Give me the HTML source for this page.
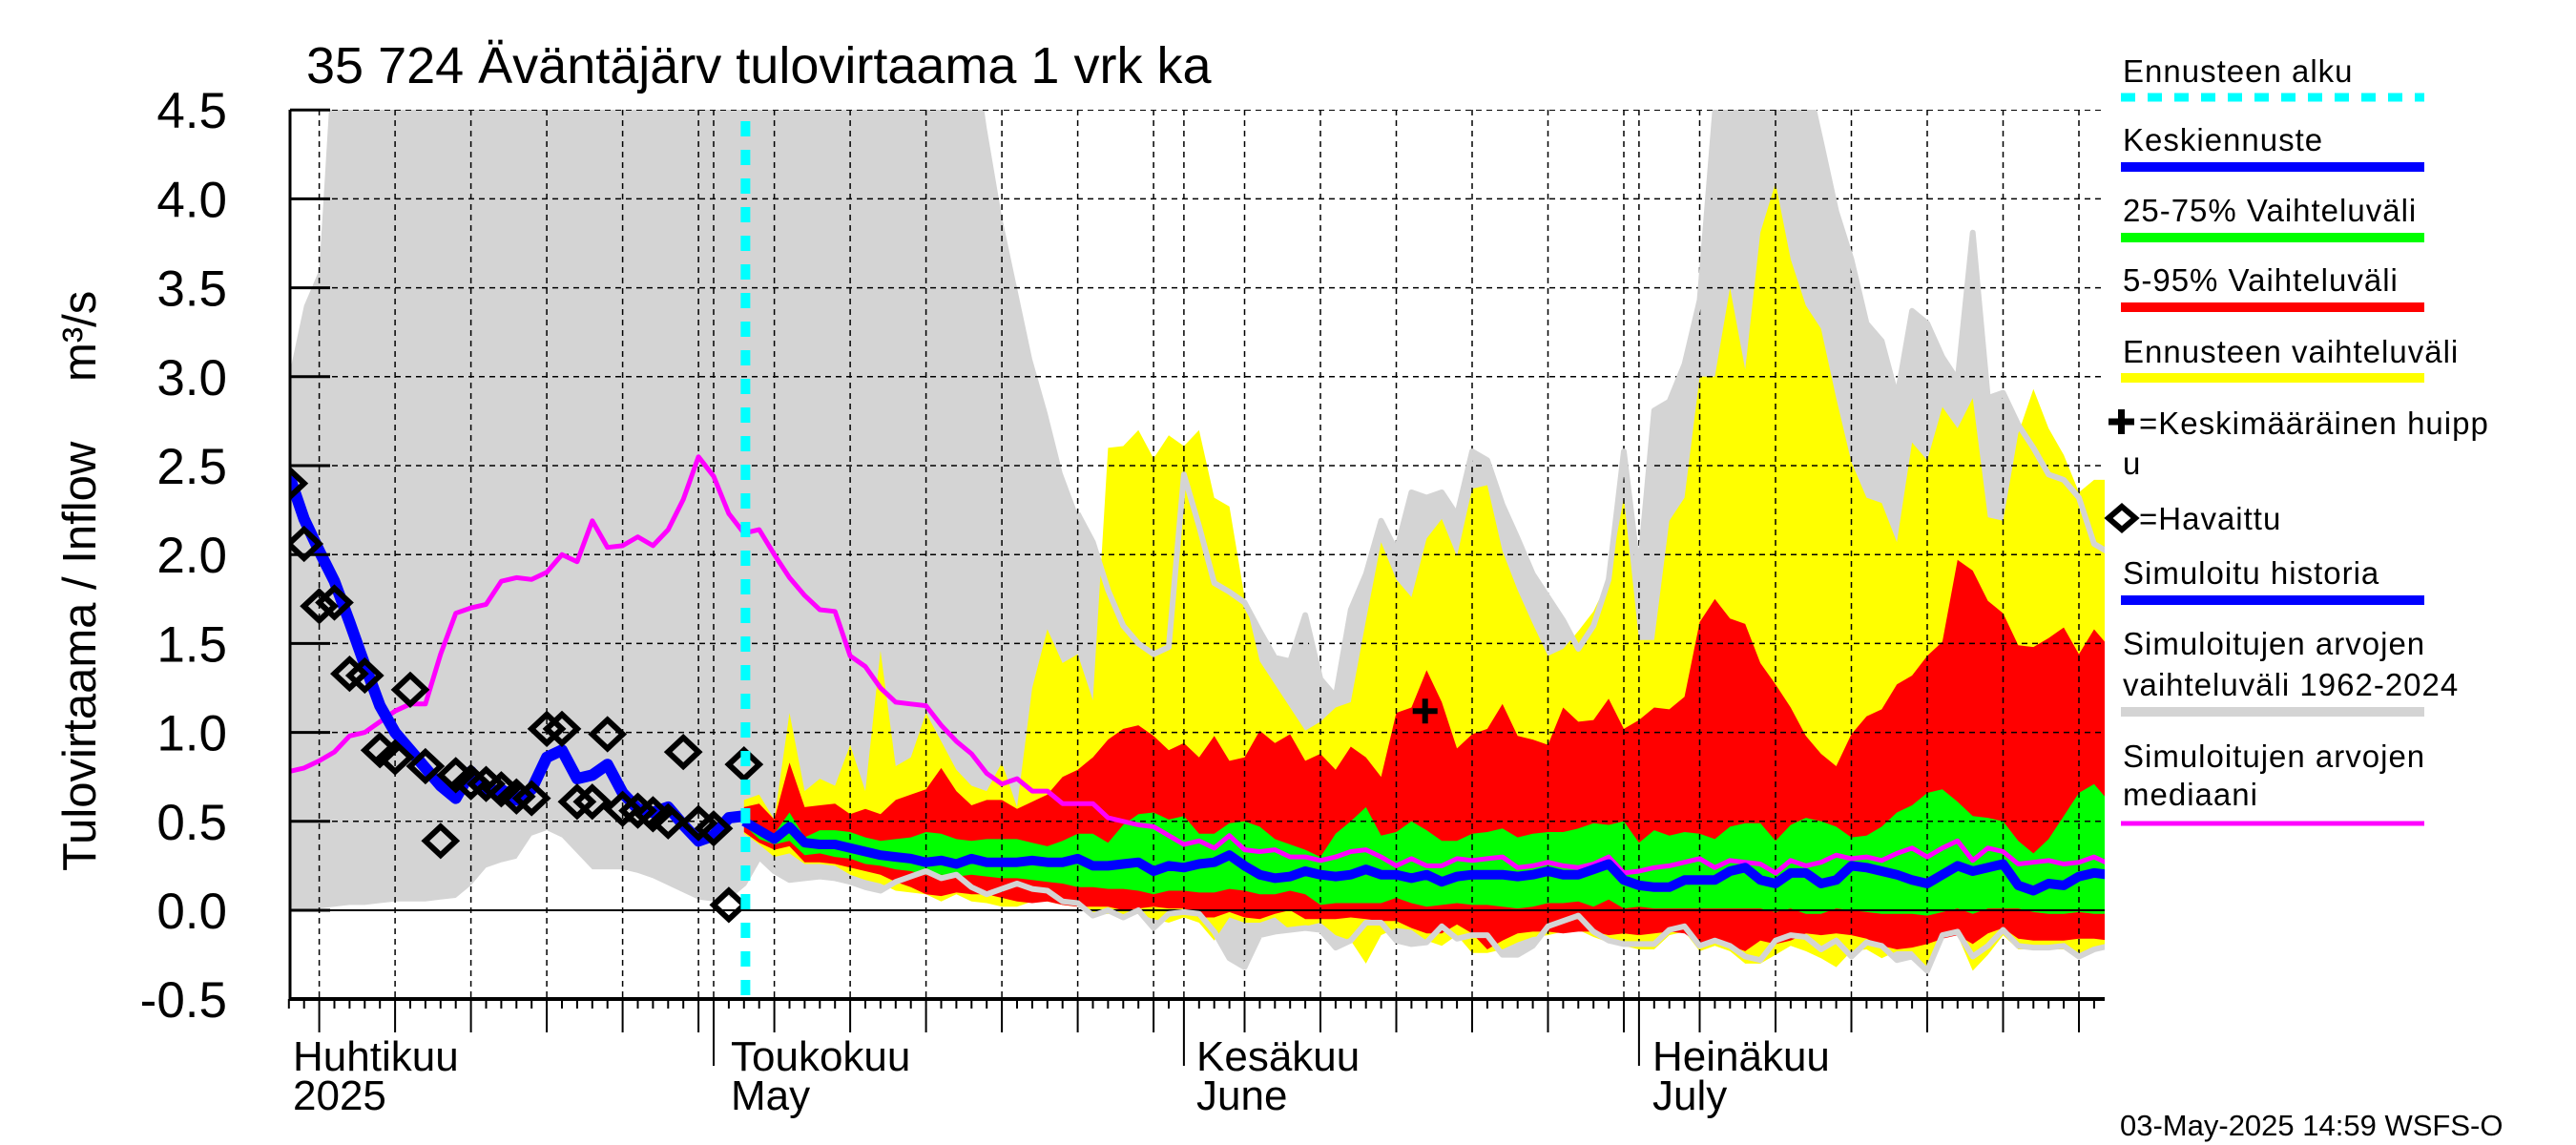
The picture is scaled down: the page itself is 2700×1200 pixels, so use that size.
<!DOCTYPE html>
<html><head><meta charset="utf-8"><title>Äväntäjärv tulovirtaama</title>
<style>
html,body{margin:0;padding:0;background:#fff;}
svg{display:block;font-family:"Liberation Sans",sans-serif;}
.lg{font-size:33px;letter-spacing:1px;fill:#000;}
</style></head>
<body>
<svg id="chart" width="2700" height="1200" viewBox="0 0 2700 1200" xmlns="http://www.w3.org/2000/svg">
<defs><clipPath id="pc"><rect x="304" y="115" width="1902" height="932"/></clipPath></defs>
<rect x="0" y="0" width="2700" height="1200" fill="#fff"/>
<text x="321" y="87" font-size="54">35 724 Äväntäjärv tulovirtaama 1 vrk ka</text>
<g id="plot" clip-path="url(#pc)"></g>
<g id="axes"></g>
<text transform="translate(100,913) rotate(-90)" font-size="49">Tulovirtaama / Inflow</text>
<text transform="translate(100,400) rotate(-90)" font-size="49">m³/s</text>
<g font-size="44">
<text x="307" y="1122">Huhtikuu</text>
<text x="307" y="1163">2025</text>
<text x="766" y="1122">Toukokuu</text>
<text x="766" y="1163">May</text>
<text x="1254" y="1122">Kesäkuu</text>
<text x="1254" y="1163">June</text>
<text x="1732" y="1122">Heinäkuu</text>
<text x="1732" y="1163">July</text>
</g>
<text x="2222" y="1190" font-size="31">03-May-2025 14:59 WSFS-O</text>
<g>
<text class="lg" x="2225" y="86">Ennusteen alku</text>
<line x1="2223" y1="102" x2="2541" y2="102" stroke="#00ffff" stroke-width="9" stroke-dasharray="15 13"/>
<text class="lg" x="2225" y="158">Keskiennuste</text>
<line x1="2223" y1="175" x2="2541" y2="175" stroke="#0000ff" stroke-width="10"/>
<text class="lg" x="2225" y="232">25-75% Vaihteluväli</text>
<line x1="2223" y1="249" x2="2541" y2="249" stroke="#00ff00" stroke-width="10"/>
<text class="lg" x="2225" y="305">5-95% Vaihteluväli</text>
<line x1="2223" y1="322" x2="2541" y2="322" stroke="#ff0000" stroke-width="10"/>
<text class="lg" x="2225" y="380">Ennusteen vaihteluväli</text>
<line x1="2223" y1="396" x2="2541" y2="396" stroke="#ffff00" stroke-width="10"/>
<path d="M2210 442 H2237 M2223.5 429 V455" stroke="#000" stroke-width="7"/>
<text class="lg" x="2242" y="455">=Keskimääräinen huipp</text>
<text class="lg" x="2225" y="497">u</text>
<path d="M2224 531 L2238 543 L2224 555 L2210 543 Z" fill="none" stroke="#000" stroke-width="6"/>
<text class="lg" x="2242" y="555">=Havaittu</text>
<text class="lg" x="2225" y="612">Simuloitu historia</text>
<line x1="2223" y1="629" x2="2541" y2="629" stroke="#0000ff" stroke-width="10"/>
<text class="lg" x="2225" y="686">Simuloitujen arvojen</text>
<text class="lg" x="2225" y="729">vaihteluväli 1962-2024</text>
<line x1="2223" y1="746" x2="2541" y2="746" stroke="#d4d4d4" stroke-width="10"/>
<text class="lg" x="2225" y="804">Simuloitujen arvojen</text>
<text class="lg" x="2225" y="844">mediaani</text>
<line x1="2223" y1="863" x2="2541" y2="863" stroke="#ff00ff" stroke-width="5"/>
</g>
</svg>
<script>
// day index: 0 = 1 April 2025
const histStartDay = 2;
const histHigh = [3.0,3.4,3.6,5,5,5,5,5,5,5,5,5,5,5,5,5,5,5,5,5,5,5,5,5,5,5,5,5,5,5,5,5,5,5,5,5,5,5,5,5,5,5,5,5,5,5,4.4,3.9,3.5,3.1,2.8,2.46,2.23,2.07,1.8,1.6,1.5,1.44,1.48,2.45,2.16,1.84,1.79,1.73,1.57,1.42,1.40,1.66,1.30,1.20,1.69,1.89,2.19,2.02,2.35,2.32,2.35,2.22,2.58,2.53,2.28,2.09,1.89,1.76,1.63,1.47,1.60,1.86,2.58,1.88,2.81,2.86,3.07,3.43,4.48,5,5,5,5,5,4.7,4.32,3.93,3.66,3.30,3.20,2.88,3.37,3.30,3.11,2.98,3.81,2.88,2.91,2.73,2.60,2.45,2.42,2.32,2.06,2.01];
const histLow = [0,0,0.01,0.02,0.03,0.03,0.04,0.05,0.05,0.05,0.06,0.07,0.14,0.24,0.27,0.29,0.42,0.45,0.41,0.32,0.23,0.23,0.23,0.21,0.18,0.14,0.10,0.06,0.05,0.08,0.15,0.30,0.22,0.17,0.18,0.19,0.18,0.16,0.13,0.11,0.16,0.19,0.22,0.18,0.20,0.13,0.09,0.12,0.15,0.12,0.11,0.05,0.04,-0.03,0,-0.04,0,-0.10,-0.02,-0.01,-0.02,-0.12,-0.27,-0.32,-0.14,-0.12,-0.11,-0.10,-0.11,-0.21,-0.17,-0.07,-0.07,-0.17,-0.19,-0.18,-0.09,-0.16,-0.14,-0.14,-0.25,-0.25,-0.20,-0.09,-0.06,-0.03,-0.12,-0.17,-0.19,-0.19,-0.19,-0.11,-0.09,-0.20,-0.17,-0.20,-0.26,-0.28,-0.17,-0.14,-0.15,-0.22,-0.17,-0.26,-0.18,-0.20,-0.28,-0.26,-0.34,-0.14,-0.12,-0.26,-0.20,-0.11,-0.20,-0.21,-0.21,-0.20,-0.26,-0.22,-0.20];
const median = [0.78,0.80,0.84,0.89,0.98,1.0,1.06,1.12,1.16,1.16,1.44,1.67,1.70,1.72,1.85,1.87,1.86,1.90,2.00,1.96,2.19,2.04,2.05,2.10,2.05,2.14,2.31,2.55,2.44,2.23,2.12,2.14,2.0,1.87,1.77,1.69,1.68,1.43,1.37,1.25,1.17,1.16,1.15,1.04,0.95,0.88,0.77,0.71,0.74,0.67,0.67,0.60,0.60,0.60,0.52,0.50,0.48,0.47,0.42,0.37,0.39,0.35,0.42,0.34,0.33,0.34,0.30,0.30,0.28,0.30,0.33,0.34,0.30,0.25,0.29,0.25,0.25,0.29,0.28,0.29,0.30,0.24,0.25,0.27,0.25,0.24,0.26,0.30,0.21,0.22,0.24,0.25,0.27,0.29,0.24,0.28,0.27,0.26,0.21,0.28,0.25,0.27,0.31,0.29,0.30,0.28,0.32,0.35,0.30,0.35,0.39,0.28,0.35,0.33,0.26,0.27,0.28,0.26,0.27,0.30,0.26];
const simHistory = [2.45,2.2,2.02,1.85,1.62,1.38,1.15,1.0,0.9,0.8,0.7,0.63,0.78,0.66,0.68,0.62,0.68,0.86,0.9,0.74,0.76,0.82,0.66,0.57,0.55,0.58,0.48,0.39,0.42,0.52,0.53];
const observed = [2.40,2.06,1.71,1.73,1.33,1.32,0.90,0.86,1.24,0.81,0.39,0.76,0.72,0.71,0.68,0.64,0.63,1.02,1.02,0.61,0.61,0.99,0.57,0.56,0.54,0.50,0.89,0.49,0.46,0.03,0.82];
const fcStartDay = 32;
const fcMean = [0.50,0.45,0.40,0.47,0.38,0.37,0.37,0.35,0.33,0.31,0.30,0.29,0.27,0.28,0.26,0.29,0.27,0.27,0.27,0.28,0.27,0.27,0.29,0.25,0.25,0.26,0.27,0.22,0.25,0.24,0.26,0.27,0.31,0.25,0.20,0.18,0.19,0.22,0.20,0.19,0.20,0.23,0.20,0.20,0.18,0.20,0.16,0.19,0.20,0.20,0.20,0.19,0.20,0.22,0.20,0.20,0.23,0.26,0.17,0.14,0.13,0.13,0.17,0.17,0.17,0.22,0.24,0.17,0.15,0.21,0.21,0.15,0.17,0.25,0.24,0.22,0.20,0.17,0.15,0.20,0.25,0.22,0.24,0.26,0.14,0.11,0.15,0.14,0.19,0.21,0.20];
const fcP75 = [0.51,0.44,0.43,0.55,0.41,0.45,0.45,0.44,0.41,0.39,0.40,0.41,0.44,0.43,0.40,0.39,0.40,0.40,0.40,0.38,0.36,0.39,0.43,0.43,0.38,0.48,0.54,0.55,0.51,0.53,0.43,0.43,0.49,0.50,0.47,0.40,0.37,0.34,0.30,0.43,0.50,0.58,0.42,0.44,0.50,0.45,0.39,0.39,0.43,0.44,0.46,0.41,0.43,0.44,0.44,0.46,0.49,0.48,0.50,0.38,0.45,0.42,0.44,0.43,0.40,0.47,0.49,0.49,0.39,0.48,0.52,0.50,0.47,0.41,0.42,0.47,0.55,0.59,0.66,0.68,0.61,0.53,0.52,0.50,0.39,0.32,0.40,0.53,0.66,0.71,0.61];
const fcP25 = [0.48,0.40,0.37,0.39,0.31,0.32,0.30,0.29,0.26,0.25,0.23,0.22,0.20,0.20,0.19,0.20,0.19,0.18,0.18,0.17,0.16,0.15,0.13,0.13,0.12,0.12,0.11,0.09,0.11,0.11,0.10,0.10,0.12,0.11,0.09,0.09,0.11,0.09,0.03,0.04,0.04,0.04,0.04,0.07,0.04,0.02,0.03,0.04,0.03,0.03,0.02,0.01,0.02,0.04,0.04,0.05,0.02,0.06,0.01,0.02,0.01,0.01,0.01,0.01,0.01,0.01,0.01,0.01,-0.01,0.01,-0.02,-0.02,0.01,0,-0.01,-0.02,-0.02,-0.02,-0.03,-0.01,0.01,-0.02,0.01,0.01,0.01,-0.01,-0.02,-0.02,-0.01,-0.02,-0.02];
const fcP95 = [0.58,0.60,0.51,0.83,0.58,0.59,0.60,0.54,0.57,0.54,0.62,0.65,0.68,0.80,0.67,0.59,0.62,0.62,0.57,0.61,0.65,0.75,0.79,0.86,0.96,1.02,1.04,0.98,0.90,0.94,0.86,0.98,0.84,0.86,1.01,0.94,0.99,0.84,0.88,0.79,0.92,0.86,0.75,1.11,1.14,1.35,1.17,0.91,0.99,1.02,1.16,0.98,0.96,0.93,1.14,1.06,1.07,1.19,1.02,1.07,1.14,1.13,1.20,1.62,1.75,1.64,1.61,1.39,1.27,1.14,0.98,0.88,0.81,0.99,1.09,1.13,1.27,1.32,1.43,1.51,1.97,1.91,1.74,1.67,1.49,1.48,1.53,1.59,1.44,1.58,1.48];
const fcP05 = [0.44,0.38,0.34,0.36,0.27,0.27,0.26,0.24,0.22,0.20,0.16,0.13,0.09,0.08,0.10,0.09,0.09,0.07,0.05,0.04,0.05,0.03,0.02,0.02,0.02,0,0.01,0.02,0.01,0.01,-0.04,-0.04,-0.01,-0.04,-0.05,-0.02,0,-0.05,-0.05,-0.05,-0.04,-0.05,-0.06,-0.06,-0.10,-0.13,-0.13,-0.08,-0.13,-0.22,-0.17,-0.13,-0.12,-0.12,-0.13,-0.12,-0.12,-0.14,-0.13,-0.14,-0.13,-0.12,-0.13,-0.19,-0.16,-0.20,-0.23,-0.17,-0.19,-0.17,-0.13,-0.14,-0.13,-0.14,-0.16,-0.20,-0.22,-0.21,-0.19,-0.16,-0.14,-0.19,-0.13,-0.10,-0.16,-0.17,-0.17,-0.17,-0.16,-0.16,-0.17];
const fcMax = [0.62,0.65,0.51,1.11,0.67,0.74,0.70,0.93,0.67,1.46,0.81,0.86,1.11,0.95,0.79,0.70,0.67,0.83,0.58,1.25,1.58,1.39,1.44,1.18,2.60,2.61,2.70,2.54,2.67,2.61,2.70,2.32,2.27,1.76,1.40,1.27,1.14,1.01,1.06,1.14,1.17,1.63,2.07,1.86,1.76,2.09,2.20,1.99,2.37,2.39,2.02,1.80,1.61,1.43,1.47,1.57,1.68,1.86,2.32,1.52,1.52,2.19,2.32,3.0,3.0,3.5,3.04,3.81,4.09,3.66,3.40,3.27,2.88,2.52,2.32,2.29,2.07,2.63,2.53,2.83,2.71,2.88,2.21,2.19,2.68,2.93,2.71,2.56,2.35,2.42,2.42];
const fcMin = [0.43,0.37,0.30,0.32,0.26,0.26,0.25,0.20,0.17,0.15,0.11,0.10,0.09,0.05,0.09,0.05,0.04,0.02,0.02,0.05,0.05,0.03,0.02,-0.03,-0.02,-0.03,-0.02,-0.05,-0.07,-0.04,-0.07,-0.17,-0.04,-0.07,-0.07,-0.04,-0.11,-0.09,-0.07,-0.14,-0.17,-0.30,-0.14,-0.10,-0.11,-0.17,-0.20,-0.14,-0.24,-0.24,-0.22,-0.18,-0.15,-0.14,-0.12,-0.11,-0.15,-0.18,-0.20,-0.22,-0.22,-0.14,-0.12,-0.23,-0.20,-0.23,-0.30,-0.30,-0.25,-0.20,-0.23,-0.27,-0.32,-0.23,-0.22,-0.27,-0.23,-0.23,-0.32,-0.15,-0.14,-0.34,-0.25,-0.14,-0.22,-0.22,-0.22,-0.22,-0.27,-0.23,-0.20];
const peakDay = 76.9;
const peakValue = 1.12;
const forecastStartDay = 32.1;
const yTicks = [-0.5,0.0,0.5,1.0,1.5,2.0,2.5,3.0,3.5,4.0,4.5];
const yTickLabels = ["-0.5","0.0","0.5","1.0","1.5","2.0","2.5","3.0","3.5","4.0","4.5"];
const monthStartDays = [0,30,61,91];
const gridDays = [4,9,14,19,24,29,34,39,44,49,54,59,65,70,75,80,85,90,95,100,105,110,115,120];

const NS = "http://www.w3.org/2000/svg";
const X0 = 304, X1 = 2206, Y0 = 115, Y1 = 1047;
function xs(d){ return 271 + d*15.9; }
function ys(v){ return 954 - v*186.4; }
function mk(tag, attrs, parent){
  const e = document.createElementNS(NS, tag);
  for (const k in attrs) e.setAttribute(k, attrs[k]);
  parent.appendChild(e);
  return e;
}
function pts(start, arr){ return arr.map((v,i)=> xs(start+i).toFixed(1)+","+ys(v).toFixed(1)); }
function band(start, hi, lo, color, name){
  const p = pts(start, hi).concat(pts(start, lo).reverse());
  const e = mk("polygon", {points: p.join(" "), fill: color}, plot);
  
  
}
function line(start, arr, color, w, name){
  const e = mk("polyline", {points: pts(start, arr).join(" "), fill:"none", stroke: color, "stroke-width": w, "stroke-linejoin":"round"}, plot);
  
  
}
const plot = document.getElementById("plot");
const axes = document.getElementById("axes");

band(histStartDay, histHigh, histLow, "#d4d4d4", "historical-range-band");
band(fcStartDay, fcMax, fcMin, "#ffff00", "forecast-range-band");
band(fcStartDay, fcP95, fcP05, "#ff0000", "band-5-95");
band(fcStartDay, fcP75, fcP25, "#00ff00", "band-25-75");

yTicks.forEach(v => {
  const y = ys(v);
  const g = mk("line", {x1:X0, x2:X1, y1:y, y2:y, stroke:"#000", "stroke-width": v===0 ? 2 : 1.5, "stroke-dasharray": v===0 ? "none" : "6 5"}, plot);
  
  
});
gridDays.concat(monthStartDays).forEach(d => {
  const x = xs(d);
  const g = mk("line", {x1:x, x2:x, y1:Y0, y2:Y1, stroke:"#000", "stroke-width":1.5, "stroke-dasharray":"6 5"}, plot);
  
  
});

const lowEdgeStart = 31 - histStartDay;
line(histStartDay + lowEdgeStart, histLow.slice(lowEdgeStart), "#d4d4d4", 6, "historical-range-lower-edge");
const hiEdgeStart = 54 - histStartDay;
line(histStartDay + hiEdgeStart, histHigh.slice(hiEdgeStart), "#d4d4d4", 6, "historical-range-upper-edge");

line(histStartDay, median, "#ff00ff", 5, "simulated-median-line");
line(histStartDay, simHistory, "#0000ff", 12, "simulated-history-line");
line(fcStartDay, fcMean, "#0000ff", 10, "mean-forecast-line");

observed.forEach((v,i) => {
  const x = xs(histStartDay+i), y = ys(v);
  const e = mk("path", {d:`M${x} ${y-15} L${x+16} ${y} L${x} ${y+15} L${x-16} ${y} Z`, fill:"none", stroke:"#000", "stroke-width":6}, plot);
  
  
});

const pk = mk("path", {d:`M${xs(peakDay)-13} ${ys(peakValue)} H${xs(peakDay)+13} M${xs(peakDay)} ${ys(peakValue)-13} V${ys(peakValue)+13}`, stroke:"#000", "stroke-width":6}, plot);



const fl = mk("line", {x1:xs(forecastStartDay), x2:xs(forecastStartDay), y1:127, y2:Y1, stroke:"#00ffff", "stroke-width":10, "stroke-dasharray":"16 14"}, plot);



const la = mk("line", {x1:X0, x2:X0, y1:Y0, y2:Y1+2, stroke:"#000", "stroke-width":3}, axes);


const ba = mk("line", {x1:X0-1, x2:X1, y1:Y1, y2:Y1, stroke:"#000", "stroke-width":4}, axes);


yTicks.forEach((v,i) => {
  const y = ys(v);
  const t = mk("line", {x1:X0, x2:X0+42, y1:y, y2:y, stroke:"#000", "stroke-width":3}, axes);
  
  
  const lb = mk("text", {x:238, y:y+19, "text-anchor":"end", "font-size":53}, axes);
  lb.textContent = yTickLabels[i];
  
  
});
for (let d = 2; d <= 121; d++) {
  const x = xs(d);
  let len = 10;
  if (gridDays.includes(d)) len = 35;
  if (monthStartDays.includes(d)) len = 70;
  const t = mk("line", {x1:x, x2:x, y1:Y1, y2:Y1+len, stroke:"#000", "stroke-width":2}, axes);
  
  
}
</script>
</body></html>
